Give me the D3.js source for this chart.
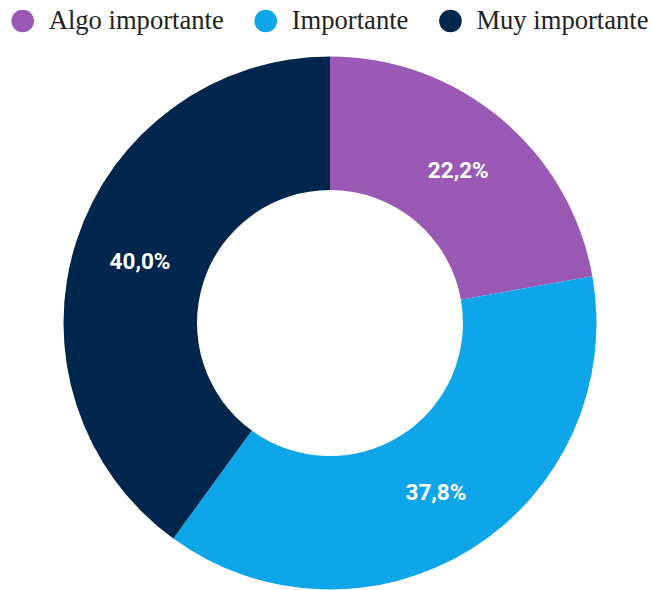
<!DOCTYPE html>
<html>
<head>
<meta charset="utf-8">
<script src="https://cdn.jsdelivr.net/npm/d3@7/dist/d3.min.js"></script>
<style>
  html, body { margin: 0; padding: 0; background: #ffffff; }
  svg { display: block; }
</style>
</head>
<body>
<svg id="chart" width="651" height="590"></svg>
<script>
// Survey answers: share of respondents per importance level
const categories = ["Algo importante", "Importante", "Muy importante"];
const values = [22.2, 37.8, 40.0];
const colors = ["#9b59b6", "#0ea5e9", "#00264d"];

const svg = d3.select("#chart");
const cx = 330, cy = 323;
const outerR = 266.5, innerR = 133;

const pie = d3.pie().sort(null).value(d => d.value);
const arc = d3.arc().innerRadius(innerR).outerRadius(outerR);
const labelArc = d3.arc().innerRadius((innerR + outerR) / 2).outerRadius((innerR + outerR) / 2);

const data = categories.map((c, i) => ({ name: c, value: values[i], color: colors[i] }));
const arcs = pie(data);

const g = svg.append("g").attr("transform", `translate(${cx},${cy})`);

g.selectAll("path.slice")
  .data(arcs)
  .join("path")
  .attr("class", "slice")
  .attr("d", arc)
  .attr("fill", d => d.data.color);

const fmt = v => v.toFixed(1).replace(".", ",") + "%";

g.selectAll("text.pct")
  .data(arcs)
  .join("text")
  .attr("class", "pct")
  .attr("transform", d => `translate(${labelArc.centroid(d)})`)
  .attr("text-anchor", "middle")
  .attr("dominant-baseline", "central")
  .style("font-family", "Roboto, sans-serif")
  .style("font-weight", "700")
  .style("font-size", "22.5px")
  .attr("fill", "#ffffff")
  .text(d => fmt(d.data.value));

// Legend across the top
const legend = svg.append("g").attr("class", "legend");
const fontSize = 26.6;
let x = 22.7;
data.forEach((d, i) => {
  const item = legend.append("g");
  item.append("circle")
    .attr("cx", x)
    .attr("cy", 21)
    .attr("r", 11.3)
    .attr("fill", d.color);
  const t = item.append("text")
    .attr("x", x + 26)
    .attr("y", 29)
    .style("font-family", "'Liberation Serif', 'Times New Roman', serif")
    .style("font-size", fontSize + "px")
    .attr("fill", "#222222")
    .text(d.name);
  const w = t.node().getComputedTextLength();
  x = x + 26 + w + 42;
});
</script>
</body>
</html>
